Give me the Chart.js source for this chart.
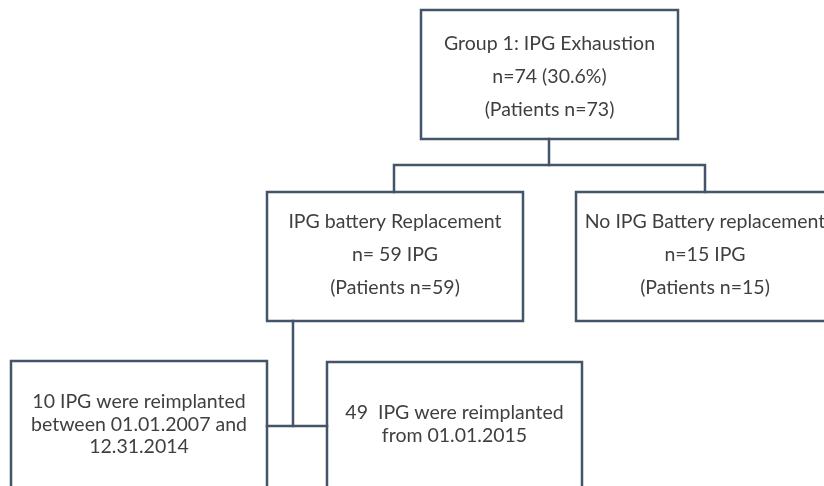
<!DOCTYPE html>
<html>
<head>
<meta charset="utf-8">
<script src="https://cdn.jsdelivr.net/npm/chart.js@4.4.1/dist/chart.umd.min.js"></script>
<style>
  body { margin: 0; background: #fff; }
  #wrap { width: 824px; height: 486px; }
</style>
</head>
<body>
<div id="wrap"><canvas id="flow"></canvas></div>
<script>
// box texts (one entry per box, lines separated)
const boxLabels = [
  ['Group 1: IPG Exhaustion', 'n=74 (30.6%)', '(Patients n=73)'],
  ['IPG battery Replacement', 'n= 59 IPG', '(Patients n=59)'],
  ['No IPG Battery replacement', 'n=15 IPG', '(Patients n=15)'],
  ['10 IPG were reimplanted', 'between 01.01.2007 and', '12.31.2014'],
  ['49  IPG were reimplanted', 'from 01.01.2015']
];

// layout: [left, top, right, bottom] in diagram units
const boxRects = [
  [421, 10, 678, 139],
  [267, 192, 523, 321],
  [576, 192, 834, 321],
  [11, 361, 267, 500],
  [327, 362, 582, 500]
];
const textTops = [44, 222, 222, 402, 413];
const lineGaps = [33, 33, 33, 22.5, 23];

// connectors as polylines
const connectors = [
  [[549, 139], [549, 165]],
  [[394, 192], [394, 165], [705, 165], [705, 192]],
  [[293, 321], [293, 426]],
  [[267, 426], [327, 426]]
];

const lineColor = '#44546a';

function rectPoints(r) {
  return [
    { x: r[0], y: r[1] }, { x: r[2], y: r[1] },
    { x: r[2], y: r[3] }, { x: r[0], y: r[3] }, { x: r[0], y: r[1] }
  ];
}

const datasets = [];
boxRects.forEach(r => {
  datasets.push({ data: rectPoints(r), borderColor: lineColor, borderWidth: 2.5 });
});
connectors.forEach(c => {
  datasets.push({ data: c.map(p => ({ x: p[0], y: p[1] })), borderColor: lineColor, borderWidth: 2.5 });
});

const boxText = {
  id: 'boxText',
  afterDatasetsDraw(chart) {
    const ctx = chart.ctx;
    const xs = chart.scales.x, ys = chart.scales.y;
    ctx.save();
    ctx.fillStyle = '#3f3f3f';
    ctx.font = '19.5px Lato';
    ctx.textAlign = 'center';
    ctx.textBaseline = 'middle';
    boxLabels.forEach((lines, i) => {
      const r = boxRects[i];
      const cx = xs.getPixelForValue((r[0] + r[2]) / 2);
      lines.forEach((t, j) => {
        ctx.fillText(t, cx, ys.getPixelForValue(textTops[i] + j * lineGaps[i]));
      });
    });
    ctx.restore();
  }
};

new Chart(document.getElementById('flow'), {
  type: 'line',
  data: { datasets },
  options: {
    responsive: true,
    maintainAspectRatio: false,
    animation: false,
    layout: { padding: 0 },
    elements: { point: { radius: 0 }, line: { tension: 0, fill: false, borderCapStyle: 'square', borderJoinStyle: 'miter' } },
    scales: {
      x: { type: 'linear', min: 0, max: 824, display: false },
      y: { type: 'linear', min: 0, max: 486, reverse: true, display: false }
    },
    plugins: { legend: { display: false }, tooltip: { enabled: false } }
  },
  plugins: [boxText]
});
</script>
</body>
</html>
